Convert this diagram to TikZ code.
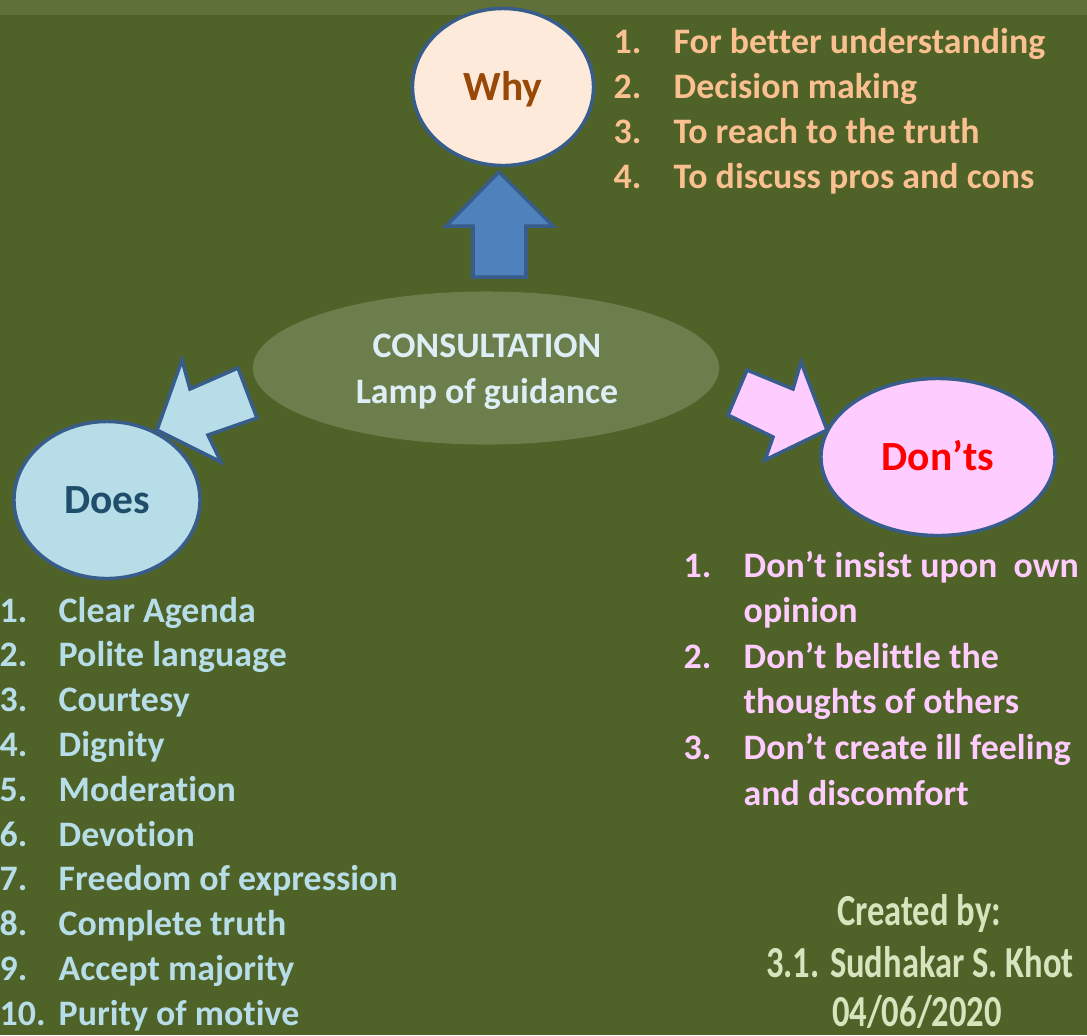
\documentclass[tikz,border=0pt]{standalone}
\usepackage{fontspec}
\setmainfont{Carlito}[Ligatures=NoCommon]
\newfontfamily\credfont{Carlito}[FakeStretch=0.78]
\usetikzlibrary{shapes.geometric}

\definecolor{bgolive}{HTML}{4F6228}
\definecolor{bandolive}{HTML}{5F7038}
\definecolor{midolive}{HTML}{6C7E4C}
\definecolor{rimblue}{HTML}{385D8A}
\definecolor{arrowblue}{HTML}{4F81BD}
\definecolor{whyfill}{HTML}{FDEADA}
\definecolor{whytext}{HTML}{984807}
\definecolor{whylist}{HTML}{FAC090}
\definecolor{doesfill}{HTML}{B7DDE8}
\definecolor{doestext}{HTML}{1F4E6B}
\definecolor{dontfill}{HTML}{FFCCFF}
\definecolor{dontred}{HTML}{FF0000}
\definecolor{centretext}{HTML}{DDEFF5}
\definecolor{credgreen}{HTML}{D7E4BD}

\begin{document}
\begin{tikzpicture}[x=0.01cm,y=-0.01cm,
	bubble/.style={ellipse,draw=rimblue,line width=1pt,minimum height=1.57cm,
		text height=7.6pt,text depth=0pt,font=\fontsize{11.8}{14}\selectfont\bfseries},
	item/.style={anchor=base west,inner sep=0pt,font=\fontsize{10.2}{12}\selectfont\bfseries},
	blockarrow/.style={draw=rimblue,line width=1pt,line join=miter},
	credit/.style={anchor=base,inner sep=0pt,text=credgreen,font=\credfont\fontsize{12.6}{15}\selectfont\bfseries}]
	
	% background
	\useasboundingbox (0,0) rectangle (1087,1035);
	\fill[bgolive] (0,0) rectangle (1087,1035);
	\fill[bandolive] (0,0) rectangle (1087,15);
	
	% centre
	\node[ellipse,fill=midolive,minimum width=4.66cm,minimum height=1.53cm] (consult) at (486,368) {};
	\node[anchor=base,inner sep=0pt,text=centretext,font=\fontsize{10.2}{12}\selectfont\bfseries]
	(consult1) at (487,357) {CONSULTATION};
	\node[anchor=base,inner sep=0pt,text=centretext,font=\fontsize{10.2}{12}\selectfont\bfseries]
	(consult2) at (487,403) {Lamp of guidance};
	
	% bubbles
	\node[bubble,fill=whyfill,text=whytext,minimum width=1.81cm] (why) at (503,87) {Why};
	\node[bubble,fill=doesfill,text=doestext,minimum width=1.86cm] (does) at (107,500) {Does};
	\node[bubble,fill=dontfill,text=dontred,minimum width=2.34cm] (donts) at (938,457) {Don’ts};
	
	% block arrows
	\draw[blockarrow,fill=arrowblue] (473,277) -- (473,226) -- (446,226) -- (499,172)
	-- (553,226) -- (526,226) -- (526,277) -- cycle;
	\draw[blockarrow,fill=doesfill] (238,368) -- (190,389) -- (182,360) -- (157,430)
	-- (221,462) -- (208,435) -- (257,418) -- cycle;
	\draw[blockarrow,fill=dontfill] (747,370) -- (793,389) -- (801,362) -- (827,430)
	-- (765,460) -- (773,437) -- (728,415) -- cycle;
	
	% why list
	\foreach \txt [count=\i] in {For better understanding,Decision making,
		To reach to the truth,To discuss pros and cons}{
		\node[item,text=whylist] (whyn\i) at (613,{53+45*(\i-1)}) {\i.};
		\node[item,text=whylist] (why\i) at (673,{53+45*(\i-1)}) {\txt};
	}
	
	% does list
	\foreach \txt [count=\i] in {Clear Agenda,Polite language,Courtesy,Dignity,Moderation,
		Devotion,Freedom of expression,Complete truth,Accept majority,Purity of motive}{
		\node[item,text=doesfill] (doesn\i) at (-1,{622+44.8*(\i-1)}) {\i.};
		\node[item,text=doesfill] (does\i) at (58,{622+44.8*(\i-1)}) {\txt};
	}
	
	% don'ts list
	\foreach \i in {1,2,3}
	\node[item,text=dontfill] (dontn\i) at (683,{577+91.2*(\i-1)}) {\i.};
	\foreach \txt [count=\i] in {Don’t insist upon\ \ own,opinion,Don’t belittle the,
		thoughts of others,Don’t create ill feeling,and discomfort}
	\node[item,text=dontfill] (dont\i) at (743,{577+45.6*(\i-1)}) {\txt};
	
	% credit
	\node[credit] (cred1) at (919,925) {Created by:};
	\node[credit] (cred2) at (920,977) {3.1. Sudhakar S. Khot};
	\node[credit] (cred3) at (917,1026) {04/06/2020};
\end{tikzpicture}
\end{document}
